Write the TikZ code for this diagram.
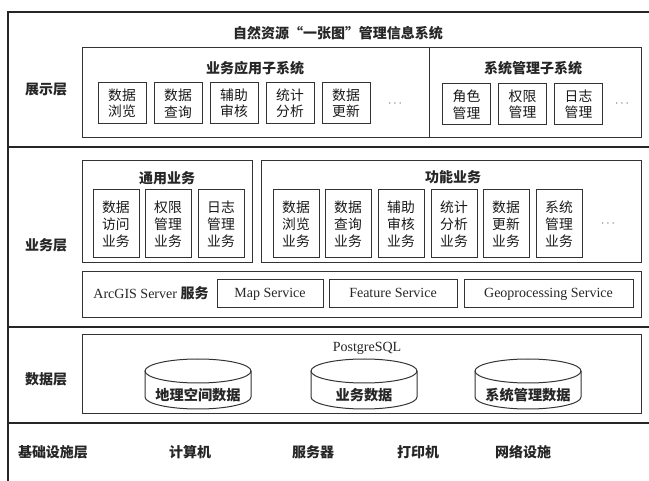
\documentclass[tikz,border=0pt]{standalone}
\usepackage{fontspec}
\setmainfont{Liberation Serif}
\newfontfamily\cjk{Noto Sans CJK SC}
\begin{document}
\begin{tikzpicture}[x=1pt,y=-1pt,
  frame/.style={line width=1.6pt, draw=black!85},
  box/.style={draw=black!80, line width=1pt, inner sep=0pt},
  cn/.style={font=\cjk\fontsize{13.8}{16.5}\selectfont, text=black!90, align=center},
  cnt/.style={font=\cjk\fontsize{13.8}{17.2}\selectfont, text=black!90, align=center},
  dbt/.style={font=\cjk\bfseries\fontsize{14.2}{17}\selectfont, text=black!85},
  head/.style={font=\cjk\bfseries\fontsize{14}{16}\selectfont, text=black!85},
  lat/.style={font=\fontsize{14}{16}\selectfont, text=black!85, text height=9.5pt, text depth=3pt},
  dots/.style={font=\fontsize{12}{12}\selectfont, text=black!65}]
\useasboundingbox (0,0) rectangle (649,481);

% layer frame
\draw[frame] (649,12) -- (8,12) -- (8,481);
\foreach \yy in {147,327,423} \draw[frame] (8,\yy) -- (649,\yy);

% layer labels
\node[head] (lshow) at (46,90) {展示层};
\node[head] (lbiz) at (46,245) {业务层};
\node[head] (ldata) at (46,379) {数据层};
\node[head] (linfra) at (53,452) {基础设施层};

% presentation layer
\node[head] (title) at (338,33) {自然资源“一张图”管理信息系统};
\node[box, minimum width=347pt, minimum height=90pt] (appsys) at (255.5,93) {};
\node[box, minimum width=212pt, minimum height=90pt] (mgmtsys) at (535,93) {};
\node[head] (appt) at (255,68) {业务应用子系统};
\node[head] (mgmtt) at (533,68) {系统管理子系统};
\node[box, cn, minimum width=48pt, minimum height=41pt] (a1) at (122,103.5) {数据\\浏览};
\node[box, cn, minimum width=48pt, minimum height=41pt] (a2) at (178,103.5) {数据\\查询};
\node[box, cn, minimum width=48pt, minimum height=41pt] (a3) at (234,103.5) {辅助\\审核};
\node[box, cn, minimum width=48pt, minimum height=41pt] (a4) at (290,103.5) {统计\\分析};
\node[box, cn, minimum width=48pt, minimum height=41pt] (a5) at (346,103.5) {数据\\更新};
\node[dots] (adots) at (395,104) {$\cdots$};
\node[box, cn, minimum width=48pt, minimum height=41pt] (m1) at (466.5,104.5) {角色\\管理};
\node[box, cn, minimum width=48pt, minimum height=41pt] (m2) at (522.5,104.5) {权限\\管理};
\node[box, cn, minimum width=48pt, minimum height=41pt] (m3) at (578.5,104.5) {日志\\管理};
\node[dots] (mdots) at (622,104) {$\cdots$};

% business layer
\node[box, minimum width=170pt, minimum height=102pt] (common) at (167,212) {};
\node[box, minimum width=380pt, minimum height=102pt] (func) at (451,212) {};
\node[head] (commont) at (167,178) {通用业务};
\node[head] (funct) at (453,177) {功能业务};
\node[box, cnt, minimum width=46pt, minimum height=68pt] (c1) at (116,224) {数据\\访问\\业务};
\node[box, cnt, minimum width=46pt, minimum height=68pt] (c2) at (168,224) {权限\\管理\\业务};
\node[box, cnt, minimum width=46pt, minimum height=68pt] (c3) at (221,224) {日志\\管理\\业务};
\node[box, cnt, minimum width=46pt, minimum height=68pt] (f1) at (296,224) {数据\\浏览\\业务};
\node[box, cnt, minimum width=46pt, minimum height=68pt] (f2) at (348,224) {数据\\查询\\业务};
\node[box, cnt, minimum width=46pt, minimum height=68pt] (f3) at (401,224) {辅助\\审核\\业务};
\node[box, cnt, minimum width=46pt, minimum height=68pt] (f4) at (454,224) {统计\\分析\\业务};
\node[box, cnt, minimum width=46pt, minimum height=68pt] (f5) at (506,224) {数据\\更新\\业务};
\node[box, cnt, minimum width=46pt, minimum height=68pt] (f6) at (559,224) {系统\\管理\\业务};
\node[dots] (fdots) at (608,224) {$\cdots$};

\node[box, minimum width=559pt, minimum height=46pt] (arcgis) at (361.5,295) {};
\node[lat] (arcgist) at (151,295) {ArcGIS Server {\cjk\bfseries 服务}};
\node[box, lat, minimum width=106pt, minimum height=28pt] (map) at (270,294) {Map Service};
\node[box, lat, minimum width=128pt, minimum height=28pt] (feat) at (393,294) {Feature Service};
\node[box, lat, minimum width=169pt, minimum height=28pt] (geo) at (548.5,294) {Geoprocessing Service};

% data layer
\node[box, minimum width=559pt, minimum height=79pt] (dbox) at (361.5,374.5) {};
\node[lat] (pg) at (367,348) {PostgreSQL};
\foreach \cx in {198,364,528} {
  \draw[box] ({\cx-53},371) -- ({\cx-53},397)
     arc[start angle=180, end angle=0, x radius=53, y radius=12] -- ({\cx+53},371);
  \draw[box] (\cx,371) ellipse[x radius=53, y radius=12];
}
\node[dbt] (db1) at (198,395) {地理空间数据};
\node[dbt] (db2) at (364,395) {业务数据};
\node[dbt] (db3) at (528,395) {系统管理数据};

% infrastructure layer
\node[head] (i1) at (190,452) {计算机};
\node[head] (i2) at (313,452) {服务器};
\node[head] (i3) at (418,452) {打印机};
\node[head] (i4) at (523,452) {网络设施};
\end{tikzpicture}
\end{document}
